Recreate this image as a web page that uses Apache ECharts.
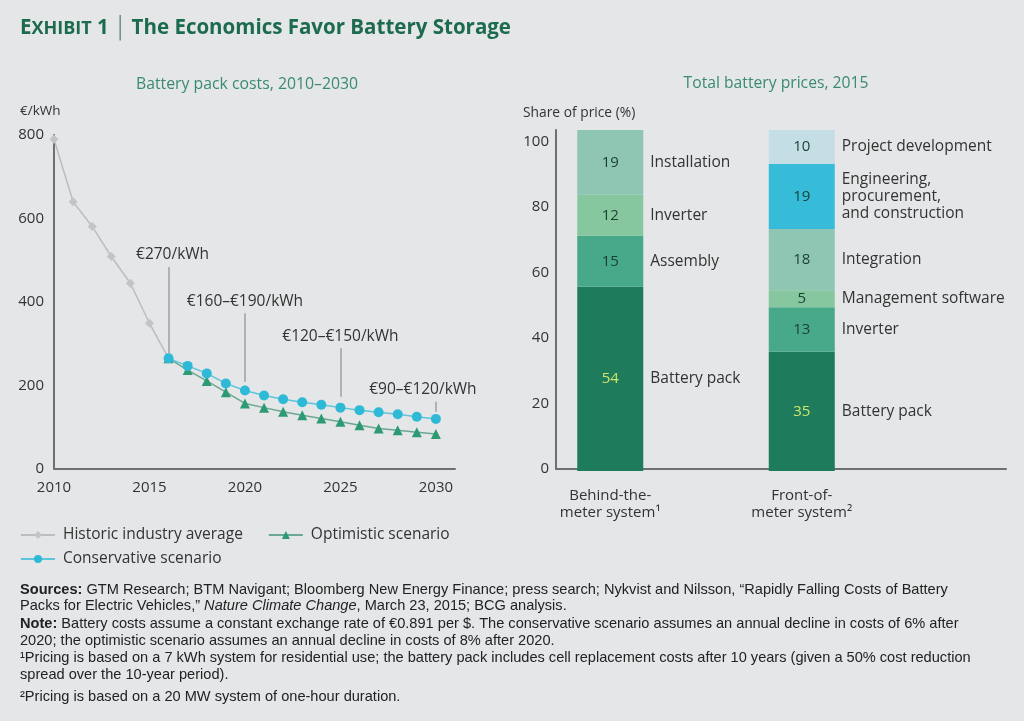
<!DOCTYPE html>
<html><head><meta charset="utf-8">
<script src="https://cdn.jsdelivr.net/npm/echarts/dist/echarts.min.js"></script>
<style>html,body{margin:0;padding:0;background:#e4e6e8}#c{width:1024px;height:721px}</style>
</head><body><div id="c"></div>
<script>
// ---- Data: left chart ----
const historicYears = [2010, 2011, 2012, 2013, 2014, 2015, 2016];
const historicValues = [790, 640, 581, 509, 445, 349, 265];
const projYears = [2016, 2017, 2018, 2019, 2020, 2021, 2022, 2023, 2024, 2025, 2026, 2027, 2028, 2029, 2030];
const conservativeValues = [265, 247, 229, 205, 188, 176, 167, 160, 154, 147, 141, 136, 131, 125, 120];
const optimisticValues = [265, 237, 211, 184, 157, 147, 137, 129, 121, 113, 105, 97, 93, 88, 84];
const callouts = [
  { year: 2016, from: 278, to: 484, text: '€270/kWh', dx: 4 },
  { year: 2020, from: 209, to: 373, text: '€160–€190/kWh', dx: 0 },
  { year: 2025, from: 173, to: 289, text: '€120–€150/kWh', dx: 0 },
  { year: 2030, from: 137, to: 161, text: '€90–€120/kWh', dx: -13 }
];
// ---- Data: right chart ----
const systems = ['Behind-the-\nmeter system¹', 'Front-of-\nmeter system²'];
const behindNames = ['Battery pack', 'Assembly', 'Inverter', 'Installation'];
const behindValues = [54, 15, 12, 19];
const frontNames = ['Battery pack', 'Inverter', 'Management software', 'Integration', 'Engineering,\nprocurement,\nand construction', 'Project development'];
const frontValues = [35, 13, 5, 18, 19, 10];

const FONT = 'Open Sans';
const FS = 15.5;
const layerColors = ['#1e7b5b', '#47a98a', '#86c79f', '#8ec5b3', '#36bcd8', '#c5dde4'];
const numColors = ['#cfe46c', '#1b3f33', '#1b3f33', '#1b3f33', '#1b3f33', '#1b3f33'];

function zip(xs, ys) { return xs.map((x, i) => [x, ys[i]]); }

const barSeries = [];
const nameSeries = [];
const nLayers = Math.max(behindValues.length, frontValues.length);
for (let i = 0; i < nLayers; i++) {
  const items = [
    i < behindValues.length ? { value: behindValues[i], name: behindNames[i] } : { value: '-' },
    i < frontValues.length ? { value: frontValues[i], name: frontNames[i] } : { value: '-' }
  ];
  barSeries.push({
    type: 'bar', xAxisIndex: 2, yAxisIndex: 2, stack: 'values', barWidth: 66, barGap: '-100%',
    itemStyle: { color: layerColors[i] },
    data: items, silent: true,
    label: {
      show: true, position: 'inside',
      formatter: p => String(p.value),
      fontFamily: FONT, fontSize: FS - 0.5, color: numColors[i]
    }
  });
  nameSeries.push({
    type: 'bar', xAxisIndex: 2, yAxisIndex: 2, stack: 'names', barWidth: 66, barGap: '-100%',
    itemStyle: { color: 'rgba(0,0,0,0)' },
    data: items, silent: true, z: 1,
    label: {
      show: true, position: 'right', distance: 7, align: 'left',
      formatter: p => p.name,
      fontFamily: FONT, fontSize: FS, color: '#333', lineHeight: 17
    }
  });
}

const footerLines = [
  { y: 590, t: '{b|Sources:} GTM Research; BTM Navigant; Bloomberg New Energy Finance; press search; Nykvist and Nilsson, “Rapidly Falling Costs of Battery' },
  { y: 606, t: 'Packs for Electric Vehicles,” {i|Nature Climate Change}, March 23, 2015; BCG analysis.' },
  { y: 624, t: '{b|Note:} Battery costs assume a constant exchange rate of €0.891 per $. The conservative scenario assumes an annual decline in costs of 6% after' },
  { y: 641, t: '2020; the optimistic scenario assumes an annual decline in costs of 8% after 2020.' },
  { y: 658, t: '¹Pricing is based on a 7 kWh system for residential use; the battery pack includes cell replacement costs after 10 years (given a 50% cost reduction' },
  { y: 675, t: 'spread over the 10-year period).' },
  { y: 697, t: '²Pricing is based on a 20 MW system of one-hour duration.' }
];
const FOOT = 'Liberation Sans';
const FFS = 14.6;

const chart = echarts.init(document.getElementById('c'));
chart.setOption({
  backgroundColor: '#e4e6e8',
  animation: false,
  textStyle: { fontFamily: FONT },
  title: [
    {
      left: 15, top: 13,
      text: '{e|E}{sc|XHIBIT}{e| 1}{bar|│}{e|The Economics Favor Battery Storage}',
      textStyle: {
        rich: {
          e: { fontFamily: FONT, fontWeight: 'bold', fontSize: 20.5, color: '#1d6b4e' },
          sc: { fontFamily: FONT, fontWeight: 'bold', fontSize: 18, color: '#1d6b4e' },
          bar: { fontFamily: FONT, fontSize: 21, color: '#6a8f80', padding: [0, 4, 0, 4] }
        }
      }
    },
    { left: 242, top: 71, textAlign: 'center', text: 'Battery pack costs, 2010–2030', textStyle: { fontFamily: FONT, fontSize: 15.8, fontWeight: 'normal', color: '#3a8a70' } },
    { left: 771, top: 71, textAlign: 'center', text: 'Total battery prices, 2015', textStyle: { fontFamily: FONT, fontSize: 15.7, fontWeight: 'normal', color: '#3a8a70' } },
    { left: 15, top: 99, text: '€/kWh', textStyle: { fontFamily: FONT, fontSize: 13.5, fontWeight: 'normal', color: '#333' } },
    { left: 518, top: 101, text: 'Share of price (%)', textStyle: { fontFamily: FONT, fontSize: 13.8, fontWeight: 'normal', color: '#333' } }
  ],
  legend: [
    {
      left: 15, top: 522, itemWidth: 34, itemHeight: 10, itemGap: 25,
      data: ['Historic industry average', 'Optimistic scenario'],
      textStyle: { fontFamily: FONT, fontSize: FS, color: '#333', padding: [0, 0, 0, 3] }
    },
    {
      left: 15, top: 546, itemWidth: 34, itemHeight: 10,
      data: ['Conservative scenario'],
      textStyle: { fontFamily: FONT, fontSize: FS, color: '#333', padding: [0, 0, 0, 3] }
    }
  ],
  grid: [
    { left: 54, top: 135, width: 401, bottom: 252 },
    { left: 556, right: 18, top: 130, bottom: 252 },
    { left: 514.5, width: 383, top: 130, bottom: 250 }
  ],
  xAxis: [
    {
      gridIndex: 0, type: 'value', min: 2010, max: 2031, interval: 5,
      axisLine: { lineStyle: { color: '#6f6f6f', width: 2 } }, axisTick: { show: false }, splitLine: { show: false },
      axisLabel: { color: '#333', fontSize: 15, margin: 11, fontFamily: FONT,
        formatter: v => (v % 5 === 0 && v <= 2030) ? String(v) : '' }
    },
    {
      gridIndex: 1, type: 'value', min: 0, max: 1,
      axisLine: { lineStyle: { color: '#6f6f6f', width: 2 } }, axisTick: { show: false }, splitLine: { show: false }, axisLabel: { show: false }
    },
    {
      gridIndex: 2, type: 'category', data: systems,
      axisLine: { show: false }, axisTick: { show: false },
      axisLabel: { color: '#333', fontSize: 15, margin: 16, lineHeight: 17, fontFamily: FONT }
    }
  ],
  yAxis: [
    {
      gridIndex: 0, type: 'value', min: 0, max: 800, interval: 200,
      axisLine: { show: true, lineStyle: { color: '#6f6f6f', width: 2 } }, axisTick: { show: false }, splitLine: { show: false },
      axisLabel: { color: '#333', fontSize: 15, margin: 10, fontFamily: FONT }
    },
    {
      gridIndex: 1, type: 'value', min: 0, max: 103.5, interval: 20,
      axisLine: { show: true, lineStyle: { color: '#6f6f6f', width: 2 } }, axisTick: { show: false }, splitLine: { show: false },
      axisLabel: { color: '#333', fontSize: 15, margin: 7, fontFamily: FONT, showMaxLabel: false }
    },
    {
      gridIndex: 2, type: 'value', min: 0, max: 100, show: false
    }
  ],
  series: [
    {
      name: 'Historic industry average', type: 'line', xAxisIndex: 0, yAxisIndex: 0,
      data: zip(historicYears, historicValues),
      symbol: 'diamond', symbolSize: 9,
      lineStyle: { color: '#bdbdbd', width: 1.5 }, itemStyle: { color: '#c4c4c4' }
    },
    {
      name: 'Optimistic scenario', type: 'line', xAxisIndex: 0, yAxisIndex: 0,
      data: zip(projYears, optimisticValues),
      symbol: 'triangle', symbolSize: 10,
      lineStyle: { color: '#6aa894', width: 1.5 }, itemStyle: { color: '#2e9a74' }
    },
    {
      name: 'Conservative scenario', type: 'line', xAxisIndex: 0, yAxisIndex: 0,
      data: zip(projYears, conservativeValues),
      symbol: 'circle', symbolSize: 10,
      lineStyle: { color: '#5cc5da', width: 1.5 }, itemStyle: { color: '#2ebad6' },
      markLine: {
        silent: true, symbol: 'none',
        lineStyle: { color: '#aeb2b5', width: 2, type: 'solid' },
        label: { show: true },
        data: callouts.map(c => [
          { coord: [c.year, c.from] },
          { coord: [c.year, c.to], label: { show: true, position: 'end', formatter: c.text, color: '#333', fontSize: FS, fontFamily: FONT, distance: 4, offset: [c.dx, 0] } }
        ])
      }
    }
  ].concat(barSeries, nameSeries),
  graphic: footerLines.map(f => ({
    type: 'text', left: 20, top: f.y - 8,
    style: {
      text: f.t, fill: '#222', fontFamily: FOOT, fontSize: FFS,
      rich: {
        b: { fontFamily: FOOT, fontSize: FFS, fontWeight: 'bold', fill: '#222' },
        i: { fontFamily: FOOT, fontSize: FFS, fontStyle: 'italic', fill: '#222' }
      }
    }
  }))
});
</script>
</body></html>
